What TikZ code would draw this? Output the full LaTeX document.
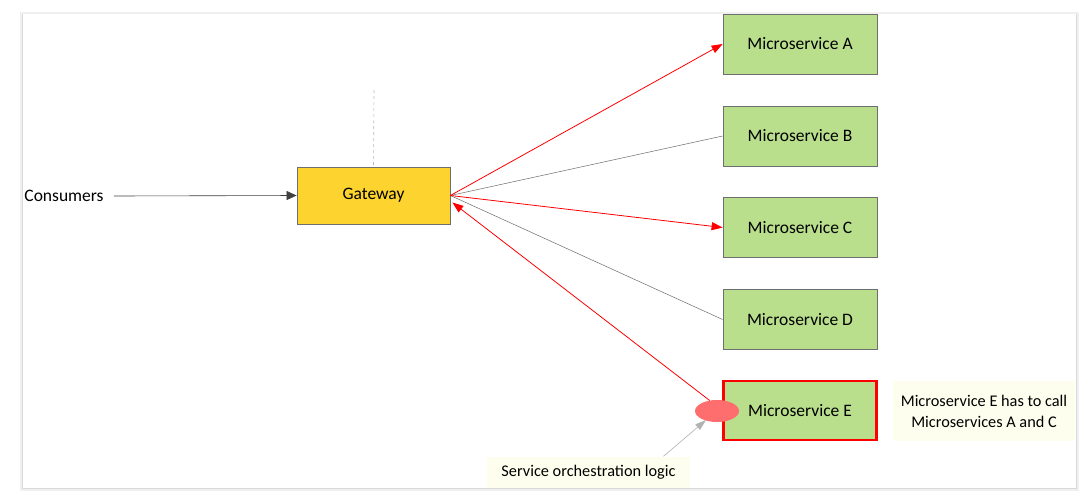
\documentclass[tikz,border=0pt]{standalone}
\usepackage{fontspec}
\setmainfont{Carlito}
\usetikzlibrary{arrows.meta,shapes.geometric}
\definecolor{gwfill}{HTML}{FDD42F}
\definecolor{msfill}{HTML}{B9DF8D}
\definecolor{notefill}{HTML}{FEFEEE}
\definecolor{boxline}{HTML}{6E6E6E}
\definecolor{redline}{HTML}{FF0000}
\definecolor{ovalfill}{HTML}{FF6E6E}
\tikzset{
  gwbox/.style={draw=boxline, fill=gwfill, line width=0.8pt, minimum width=153pt, minimum height=57pt, inner sep=0pt, font=\fontsize{17.5}{21}\selectfont},
  msbox/.style={draw=boxline, fill=msfill, line width=0.8pt, minimum width=154pt, minimum height=60pt, inner sep=0pt, font=\fontsize{17.5}{21}\selectfont},
  notebox/.style={fill=notefill, inner sep=0pt, align=center, font=\fontsize{16.3}{21}\selectfont},
  redarrow/.style={draw=redline, line width=0.8pt, -{Triangle[length=11pt,width=8pt]}},
  greyline/.style={draw=gray!85!black, line width=0.5pt},
}
\begin{document}
\begin{tikzpicture}[x=1pt,y=-1pt]
\useasboundingbox (0,0) rectangle (1089,499);
% panel
\fill[gray!12] (20,12) rectangle (1079,491);
\fill[white] (22,14) rectangle (1076,488);
\draw[gray!30, line width=0.6pt] (22,14) -- (22,488) -- (1076,488) -- (1076,14);

% nodes
\node[font=\fontsize{17.5}{21}\selectfont, inner sep=0pt] (cons) at (64,196) {Consumers};
\node[gwbox] (gw) at (373.5,195.5) {Gateway};
\node[msbox] (a) at (800,44) {Microservice A};
\node[msbox] (b) at (800,136) {Microservice B};
\node[msbox] (c) at (800,227.5) {Microservice C};
\node[msbox] (d) at (800,319.5) {Microservice D};
\node[msbox, draw=redline, line width=2.6pt, minimum width=153pt, minimum height=59pt] (e) at (800,410.5) {Microservice E};
\node[notebox, minimum width=182pt, minimum height=60pt] (n1) at (984,411) {Microservice E has to call\\Microservices A and C};
\node[notebox, minimum width=203pt, minimum height=31pt] (n2) at (588.5,472) {Service orchestration logic};
\node[ellipse, fill=ovalfill, minimum width=44pt, minimum height=22pt, inner sep=0pt] (ov) at (717,411) {};
\coordinate (dtop) at (374,90);

% connectors
\draw[gray!55, dashed, line width=0.6pt] (dtop) -- (gw.north);
\draw[draw=black!75, line width=0.6pt, -{Triangle[length=10pt,width=9pt]}] ([xshift=10pt]cons.east) -- (gw.west);
\draw[greyline] (gw.east) -- (b.west);
\draw[greyline] (gw.east) -- (d.west);
\draw[redarrow] (gw.east) -- (a.west);
\draw[redarrow] (gw.east) -- (c.west);
\draw[redarrow] (ov.125) -- ([xshift=2pt,yshift=-7pt]gw.east);
\draw[gray!60, line width=0.6pt, -{Triangle[length=11pt,width=7pt]}] ([xshift=75pt]n2.north) -- ([xshift=-11pt,yshift=-9pt]ov.center);
\end{tikzpicture}
\end{document}
